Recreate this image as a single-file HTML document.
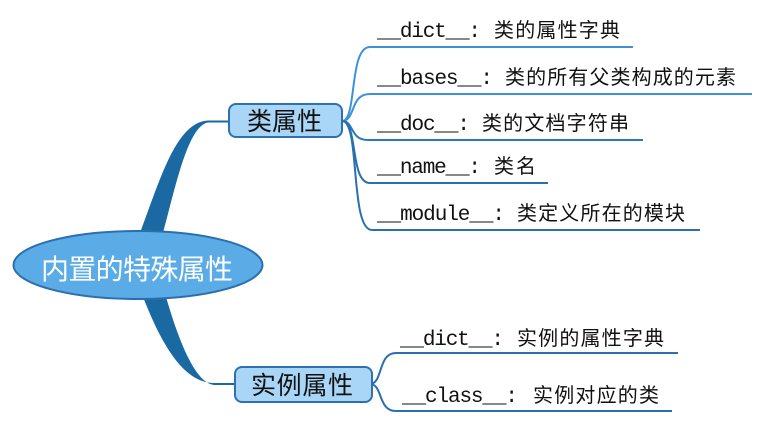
<!DOCTYPE html>
<html><head><meta charset="utf-8"><style>
html,body{margin:0;padding:0;background:#fff;}
svg{display:block;}
.m{font-family:"Liberation Mono",monospace;font-size:21px;fill:#111;}
.c{font-family:"Liberation Sans","Noto Sans CJK SC",sans-serif;font-size:20px;fill:#111;}
</style></head><body>
<svg width="766" height="430" viewBox="0 0 766 430" xmlns="http://www.w3.org/2000/svg">
<!-- thick branches -->
<path d="M140,233 C160,180 176,122 208,120.5 L229,120.5 L229,122.5 L208,122.5 C188,126 176,185 163,233 Z" fill="#1b69a3"/>
<path d="M143,297 C160,340 182,383 214,383 L235,383 L235,385 L214,385 C196,383 180,345 166,297 Z" fill="#1b69a3"/>
<!-- ellipse -->
<ellipse cx="138" cy="265" rx="124.5" ry="34" fill="#5aabe6" stroke="#2b6fae" stroke-width="2"/>
<text x="41" y="279" font-family="Liberation Sans,'Noto Sans CJK SC',sans-serif" font-size="28" fill="#fff" textLength="192" lengthAdjust="spacing">内置的特殊属性</text>
<!-- fans -->
<g fill="none" stroke-width="2">
<path d="M343,121 C357,118 349,47 370,47 L633,47" stroke="#3b92da"/>
<path d="M343,121 C356,119 350,94 370,94 L752,94" stroke="#3b92da"/>
<path d="M343,121 C354,122 350,140 368,140 L643,140" stroke="#2d78bb"/>
<path d="M343,121 C358,124 350,183 370,183 L548,183" stroke="#2a6fae"/>
<path d="M343,121 C360,124 350,230 372,230 L700,230" stroke="#2a6fae"/>
<path d="M371,384 C383,382 378,353 396,353 L678,353" stroke="#2a6fae"/>
<path d="M371,384 C383,386 378,411 396,411 L672,411" stroke="#2a6fae"/>
</g>
<!-- boxes -->
<rect x="229" y="104" width="113" height="33" rx="7" fill="#a9d5f6" stroke="#2d72b0" stroke-width="2"/>
<text x="247" y="130" font-family="Liberation Sans,'Noto Sans CJK SC',sans-serif" font-size="25" fill="#111" textLength="75" lengthAdjust="spacing">类属性</text>
<rect x="235" y="367" width="137" height="35" rx="7" fill="#a9d5f6" stroke="#2d72b0" stroke-width="2"/>
<text x="251" y="394" font-family="Liberation Sans,'Noto Sans CJK SC',sans-serif" font-size="25" fill="#111" textLength="102" lengthAdjust="spacing">实例属性</text>
<!-- labels -->
<text class="m" x="377" y="37" textLength="104" lengthAdjust="spacing">__dict__:</text>
<text class="c" x="494" y="37" textLength="126" lengthAdjust="spacing">类的属性字典</text>
<text class="m" x="377" y="84" textLength="116" lengthAdjust="spacing">__bases__:</text>
<text class="c" x="505" y="84" textLength="231" lengthAdjust="spacing">类的所有父类构成的元素</text>
<text class="m" x="377" y="130" textLength="93" lengthAdjust="spacing">__doc__:</text>
<text class="c" x="482" y="130" textLength="147" lengthAdjust="spacing">类的文档字符串</text>
<text class="m" x="377" y="173" textLength="104" lengthAdjust="spacing">__name__:</text>
<text class="c" x="494" y="173" textLength="42" lengthAdjust="spacing">类名</text>
<text class="m" x="377" y="220" textLength="128" lengthAdjust="spacing">__module__:</text>
<text class="c" x="517" y="220" textLength="168" lengthAdjust="spacing">类定义所在的模块</text>
<text class="m" x="400" y="345" textLength="104" lengthAdjust="spacing">__dict__:</text>
<text class="c" x="517" y="345" textLength="147" lengthAdjust="spacing">实例的属性字典</text>
<text class="m" x="402" y="402" textLength="116" lengthAdjust="spacing">__class__:</text>
<text class="c" x="533" y="402" textLength="126" lengthAdjust="spacing">实例对应的类</text>
</svg>
</body></html>
